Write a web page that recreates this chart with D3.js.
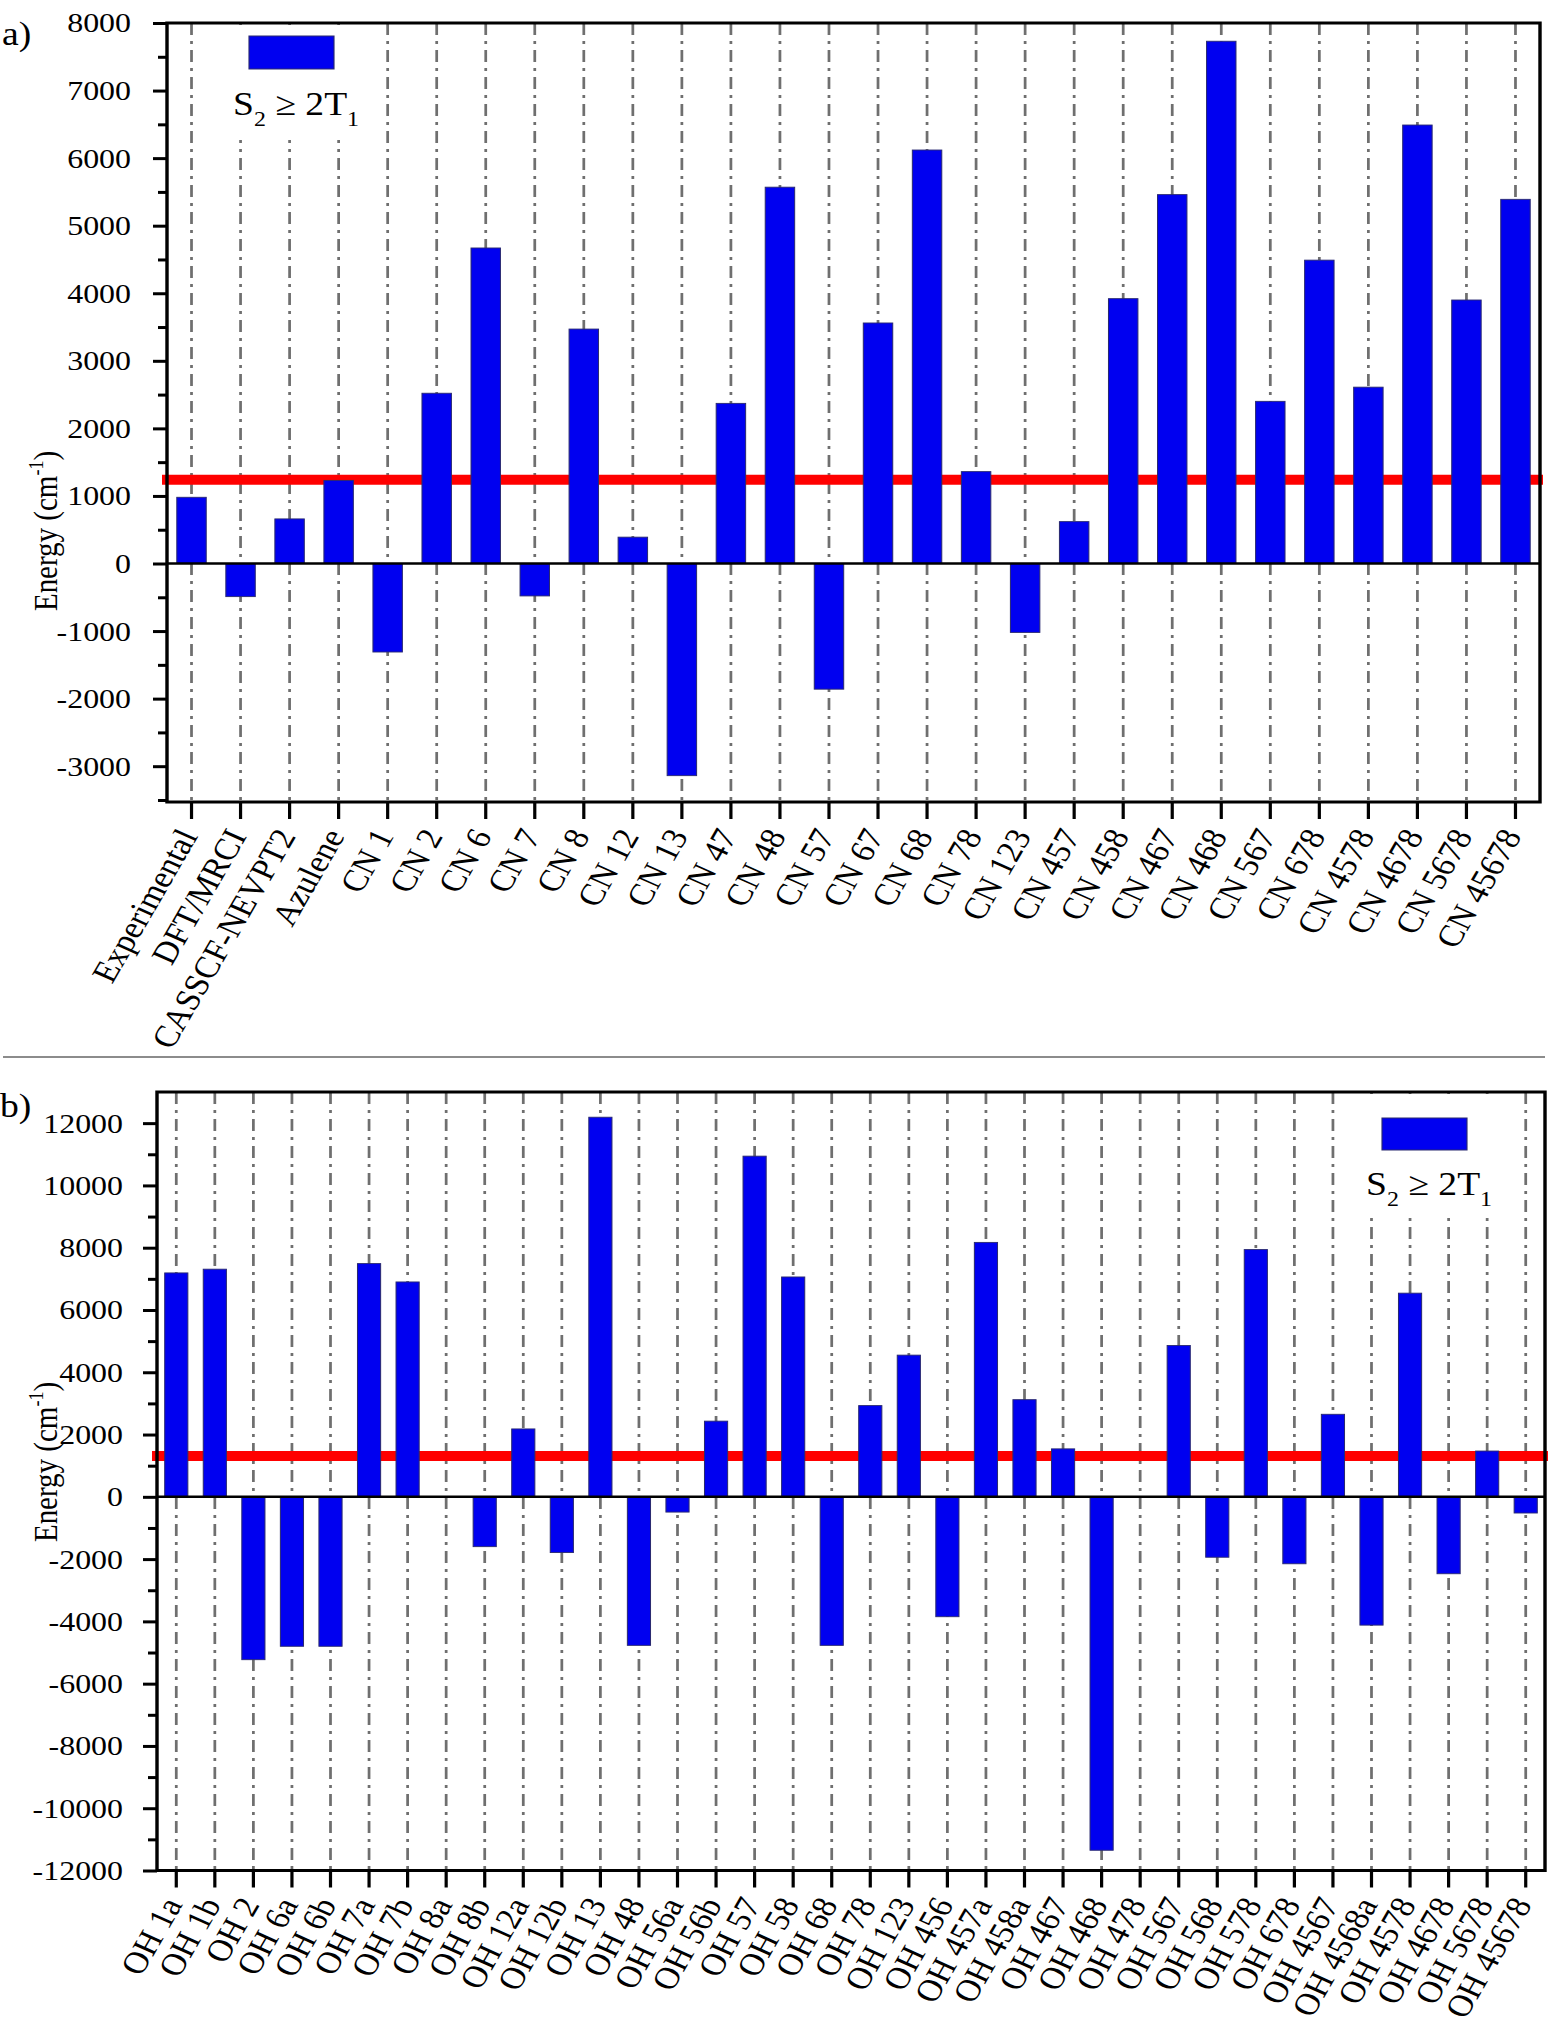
<!DOCTYPE html>
<html>
<head>
<meta charset="utf-8">
<script src="https://cdn.jsdelivr.net/npm/d3@7"></script>
<style>
  body { margin: 0; background: #fff; }
  svg { display: block; }
</style>
</head>
<body>
<div class="canvas"></div>
<script>
// panel a) data
const catsA = ['Experimental', 'DFT/MRCI', 'CASSCF-NEVPT2', 'Azulene', 'CN 1', 'CN 2', 'CN 6', 'CN 7',
  'CN 8', 'CN 12', 'CN 13', 'CN 47', 'CN 48', 'CN 57', 'CN 67', 'CN 68', 'CN 78', 'CN 123', 'CN 457',
  'CN 458', 'CN 467', 'CN 468', 'CN 567', 'CN 678', 'CN 4578', 'CN 4678', 'CN 5678', 'CN 45678'];
const valsA = [980, -490, 660, 1230, -1310, 2520, 4670, -480, 3470, 390, -3140, 2370, 5570, -1860,
  3560, 6120, 1360, -1020, 620, 3920, 5460, 7730, 2400, 4490, 2610, 6490, 3900, 5390];
const limitA = 1240;
const ticksA = d3.range(-3000, 8001, 1000);
const minorA = d3.range(-3500, 8000, 1000);

// panel b) data
const catsB = ['OH 1a', 'OH 1b', 'OH 2', 'OH 6a', 'OH 6b', 'OH 7a', 'OH 7b', 'OH 8a', 'OH 8b', 'OH 12a',
  'OH 12b', 'OH 13', 'OH 48', 'OH 56a', 'OH 56b', 'OH 57', 'OH 58', 'OH 68', 'OH 78', 'OH 123', 'OH 456',
  'OH 457a', 'OH 458a', 'OH 467', 'OH 468', 'OH 478', 'OH 567', 'OH 568', 'OH 578', 'OH 678', 'OH 4567',
  'OH 4568a', 'OH 4578', 'OH 4678', 'OH 5678', 'OH 45678'];
const valsB = [7190, 7310, -5230, -4800, -4800, 7490, 6900, 0, -1600, 2180, -1790, 12190, -4770, -490,
  2430, 10940, 7060, -4770, 2930, 4550, -3850, 8170, 3120, 1540, -11350, 0, 4860, -1940, 7940, -2150,
  2650, -4120, 6540, -2470, 1470, -520];
const limitB = 1310;
const ticksB = d3.range(-12000, 12001, 2000);
const minorB = d3.range(-11000, 12000, 2000);

const legendText = ['S', '2', ' \u2265 2T', '1'];

// the original picture is stretched sideways, so draw in a squeezed frame
const SX = 1.14;
const font = "'Liberation Serif', 'Times New Roman', serif";

const svg = d3.select('.canvas')
  .append('svg')
  .attr('width', 1556)
  .attr('height', 2038);

svg.append('rect').attr('width', 1556).attr('height', 2038).attr('fill', '#fff');

const root = svg.append('g').attr('transform', `scale(${SX},1)`);

// thin rule between the two panels
root.append('line')
  .attr('x1', 3 / SX).attr('x2', 1545 / SX)
  .attr('y1', 1057).attr('y2', 1057)
  .attr('stroke', '#8c8c8c').attr('stroke-width', 2);

const drawPanel = (p) => {
  const g = root.append('g');
  const L = p.left / SX, R = p.right / SX;

  const x = d3.scaleBand()
    .domain(p.cats)
    .range([L, R])
    .paddingInner(0.4)
    .paddingOuter(0.2);

  const y = d3.scaleLinear()
    .domain(p.domain)
    .range([p.bottom, p.top]);

  const cx = d => x(d) + x.bandwidth() / 2;

  // dash-dot guide lines
  g.append('g').selectAll('line')
    .data(p.cats)
    .join('line')
      .attr('x1', cx).attr('x2', cx)
      .attr('y1', p.top).attr('y2', p.bottom)
      .attr('stroke', '#6f6f6f')
      .attr('stroke-width', 2.4)
      .attr('stroke-dasharray', '12,6,3,6');

  // legend backing hides the guides
  g.append('rect')
    .attr('x', p.legBg[0] / SX).attr('y', p.legBg[1])
    .attr('width', (p.legBg[2] - p.legBg[0]) / SX)
    .attr('height', p.legBg[3] - p.legBg[1])
    .attr('fill', '#fff');

  // S2 >= 2T1 threshold
  g.append('line')
    .attr('x1', (p.left - 5) / SX).attr('x2', (p.right + 3) / SX)
    .attr('y1', y(p.limit)).attr('y2', y(p.limit))
    .attr('stroke', '#ff0000')
    .attr('stroke-width', 10);

  const data = p.vals.map((v, i) => ({ c: p.cats[i], v })).filter(d => d.v !== 0);

  g.append('g').selectAll('rect')
    .data(data)
    .join('rect')
      .attr('x', d => x(d.c))
      .attr('width', x.bandwidth())
      .attr('y', d => y(Math.max(0, d.v)))
      .attr('height', d => Math.abs(y(d.v) - y(0)))
      .attr('fill', '#0000f0')
      .attr('stroke', '#2a2a70')
      .attr('stroke-width', 0.9);

  // zero line
  g.append('line')
    .attr('x1', L).attr('x2', R)
    .attr('y1', y(0)).attr('y2', y(0))
    .attr('stroke', '#000').attr('stroke-width', 2.6);

  // frame
  g.append('rect')
    .attr('x', L).attr('y', p.top)
    .attr('width', R - L).attr('height', p.bottom - p.top)
    .attr('fill', 'none')
    .attr('stroke', '#000').attr('stroke-width', 3);

  // y axis, major + minor ticks
  const yAx = g.append('g')
    .attr('transform', `translate(${L},0)`)
    .call(d3.axisLeft(y)
      .tickValues(p.ticks)
      .tickSize(14 / SX)
      .tickPadding(p.labelGap / SX - 14 / SX)
      .tickFormat(d => String(d)));
  yAx.select('.domain').remove();
  yAx.selectAll('line').attr('stroke-width', 3);
  yAx.selectAll('text')
    .attr('font-family', font)
    .attr('font-size', 28)
    .attr('fill', '#000');

  const yMin = g.append('g')
    .attr('transform', `translate(${L},0)`)
    .call(d3.axisLeft(y).tickValues(p.minor).tickSize(9 / SX).tickFormat(''));
  yMin.select('.domain').remove();
  yMin.selectAll('line').attr('stroke-width', 3);

  // x axis with slanted names
  const xAx = g.append('g')
    .attr('transform', `translate(0,${p.bottom})`)
    .call(d3.axisBottom(x).tickSize(17).tickSizeOuter(0));
  xAx.select('.domain').remove();
  xAx.selectAll('line').attr('stroke-width', 3.2 / SX);
  xAx.selectAll('text')
    .attr('y', 0).attr('dy', 0).attr('x', 0)
    .attr('transform', 'translate(6,34) rotate(-63)')
    .style('text-anchor', 'end')
    .attr('font-family', font)
    .attr('font-size', 31)
    .attr('fill', '#000');

  // axis title
  const title = g.append('text')
    .attr('transform', `translate(${57 / SX},${p.titleY}) rotate(-90)`)
    .attr('text-anchor', 'middle')
    .attr('font-family', font)
    .attr('font-size', 29);
  title.append('tspan').text('Energy (cm');
  title.append('tspan').attr('dy', -12).attr('font-size', 18).text('-1');
  title.append('tspan').attr('dy', 12).text(')');

  // panel letter
  g.append('text')
    .attr('x', p.letterX / SX).attr('y', p.letterY)
    .attr('font-family', font).attr('font-size', 33)
    .text(p.letter);

  // legend
  g.append('rect')
    .attr('x', p.legRect[0] / SX).attr('y', p.legRect[1])
    .attr('width', (p.legRect[2] - p.legRect[0]) / SX)
    .attr('height', p.legRect[3] - p.legRect[1])
    .attr('fill', '#0000f0')
    .attr('stroke', '#2a2a70').attr('stroke-width', 1);

  const lt = g.append('text')
    .attr('x', p.legText[0] / SX).attr('y', p.legText[1])
    .attr('font-family', font).attr('font-size', 33);
  lt.append('tspan').text(legendText[0]);
  lt.append('tspan').attr('dy', 11).attr('font-size', 21).text(legendText[1]);
  lt.append('tspan').attr('dy', -11).text(legendText[2]);
  lt.append('tspan').attr('dy', 11).attr('font-size', 21).text(legendText[3]);
};

drawPanel({
  cats: catsA, vals: valsA, limit: limitA, ticks: ticksA, minor: minorA,
  domain: [-3530, 8000],
  left: 167, right: 1540, top: 23, bottom: 802,
  labelGap: 36, titleY: 531,
  letter: 'a)', letterX: 2, letterY: 45,
  legBg: [200, 25, 375, 140],
  legRect: [249, 36, 334, 69],
  legText: [233, 115]
});

drawPanel({
  cats: catsB, vals: valsB, limit: limitB, ticks: ticksB, minor: minorB,
  domain: [-12000, 13000],
  left: 157, right: 1545, top: 1092, bottom: 1870.5,
  labelGap: 34, titleY: 1462,
  letter: 'b)', letterX: 0, letterY: 1117,
  legBg: [1358, 1094, 1505, 1214],
  legRect: [1382, 1118, 1467, 1150],
  legText: [1366, 1195]
});
</script>
</body>
</html>
